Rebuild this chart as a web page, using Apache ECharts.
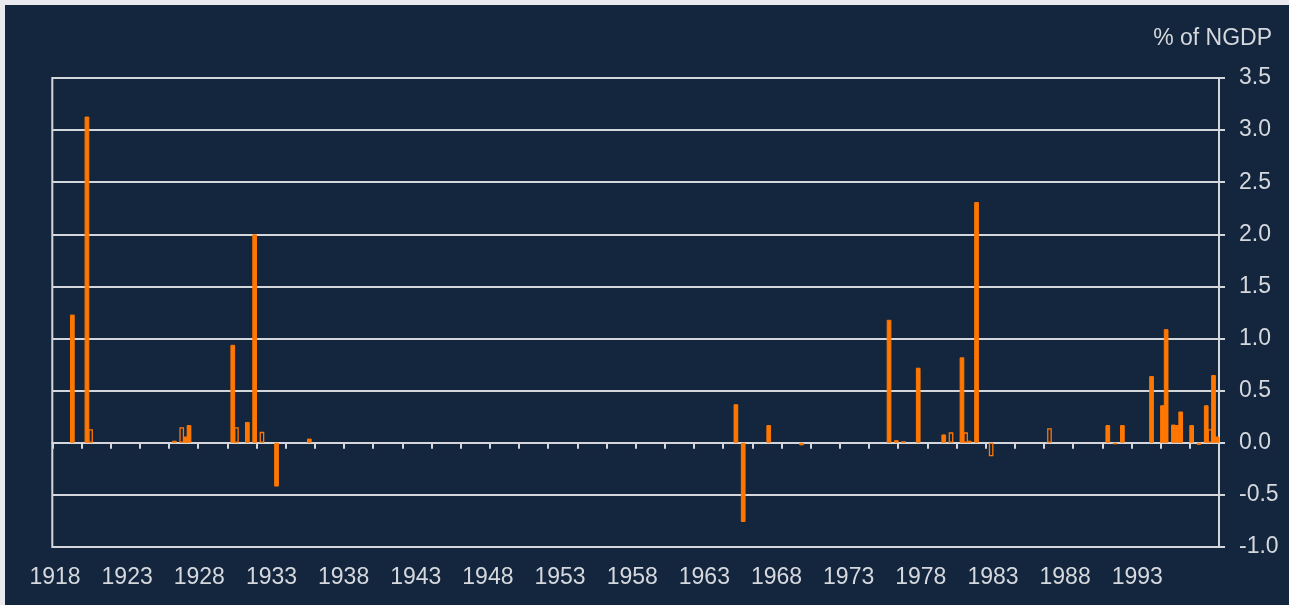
<!DOCTYPE html>
<html>
<head>
<meta charset="utf-8">
<script src="https://cdn.jsdelivr.net/npm/echarts@6/dist/echarts.min.js"></script>
<style>
html,body{margin:0;padding:0;background:#e8eaee;width:1289px;height:605px;overflow:hidden;}
#chart{position:absolute;left:5px;top:5px;width:1284px;height:600px;}
</style>
</head>
<body>
<div id="chart"></div>
<script>
// ---- data (quarterly, % of NGDP) ----
const years = [];
for (let y = 1918; y <= 1997; y++) years.push(String(y));
const quarters = years.flatMap(y => ['Q1', 'Q2', 'Q3', 'Q4'].map(q => y + q));

const yearLabels = ['1918', '1923', '1928', '1933', '1938', '1943', '1948', '1953',
                    '1958', '1963', '1968', '1973', '1978', '1983', '1988', '1993'];
const valueTicks = [-1.0, -0.5, 0.0, 0.5, 1.0, 1.5, 2.0, 2.5, 3.0, 3.5];

const solidBars = [
  ['1919Q2', 1.23], ['1920Q2', 3.13], ['1926Q2', 0.02], ['1927Q1', 0.06], ['1927Q2', 0.17],
  ['1930Q2', 0.94], ['1931Q2', 0.20], ['1931Q4', 2.00], ['1933Q2', -0.42], ['1935Q3', 0.04],
  ['1964Q4', 0.37], ['1965Q2', -0.76], ['1967Q1', 0.17], ['1969Q2', -0.025],
  ['1975Q2', 1.18], ['1975Q4', 0.025], ['1977Q2', 0.72], ['1979Q1', 0.08], ['1980Q2', 0.82],
  ['1980Q4', 0.02], ['1981Q2', 2.31],
  ['1990Q2', 0.17], ['1990Q4', -0.015], ['1991Q2', 0.17], ['1993Q2', 0.64], ['1994Q1', 0.36],
  ['1994Q2', 1.09], ['1994Q4', 0.175], ['1995Q1', 0.17], ['1995Q2', 0.30], ['1996Q1', 0.17],
  ['1996Q3', -0.02], ['1997Q1', 0.36], ['1997Q3', 0.65], ['1997Q4', 0.06]
];
const hollowBars = [
  ['1920Q3', 0.13], ['1926Q4', 0.15], ['1930Q3', 0.15], ['1932Q2', 0.105], ['1976Q2', 0.015],
  ['1979Q3', 0.10], ['1980Q3', 0.10], ['1982Q2', -0.13], ['1986Q2', 0.14], ['1997Q2', 0.13]
];

function toSeries(list) {
  const m = new Map(list);
  return quarters.map(q => (m.has(q) ? m.get(q) : null));
}

// ---- style ----
const BG = '#14263e';
const ORANGE = '#ff7700';
const LINE = '#d3d6db';
const TEXT = '#d5d8dd';
const FONT = '"Liberation Sans", Arial, sans-serif';

const chart = echarts.init(document.getElementById('chart'));
chart.setOption({
  animation: false,
  backgroundColor: BG,
  grid: [
    { left: 47.3, top: 73, width: 1166.7, height: 469, show: true, borderColor: LINE, borderWidth: 2 },
    { left: 42.8, top: 73, width: 1154.4, height: 469, show: false }
  ],
  graphic: [{
    type: 'text', x: 1267, y: 34,
    style: { text: '% of NGDP', fill: TEXT, fontSize: 23, fontFamily: FONT, align: 'right', verticalAlign: 'middle' }
  }],
  xAxis: [
    {
      type: 'category', gridIndex: 0, data: quarters, boundaryGap: true,
      axisLine: { show: true, onZero: true, lineStyle: { color: LINE, width: 2 } },
      axisTick: { show: true, length: 6, interval: (i) => i % 8 === 0, lineStyle: { color: LINE, width: 2 } },
      axisLabel: { show: false },
      splitLine: { show: false }
    },
    {
      type: 'category', gridIndex: 1, data: years, boundaryGap: true, position: 'bottom',
      axisLine: { show: false }, axisTick: { show: false }, splitLine: { show: false },
      axisLabel: {
        show: true, interval: (i, v) => yearLabels.includes(v), margin: 19,
        color: TEXT, fontSize: 23, fontFamily: FONT
      }
    }
  ],
  yAxis: [
    {
      type: 'value', gridIndex: 0, position: 'right',
      min: valueTicks[0], max: valueTicks[valueTicks.length - 1], interval: valueTicks[1] - valueTicks[0],
      axisLine: { show: true, lineStyle: { color: LINE, width: 2 } },
      axisTick: { show: true, length: 6, lineStyle: { color: LINE, width: 2 } },
      splitLine: { show: true, lineStyle: { color: LINE, width: 2 } },
      axisLabel: { margin: 20, color: TEXT, fontSize: 23, fontFamily: FONT, formatter: v => v.toFixed(1) }
    },
    { type: 'value', gridIndex: 1, show: false, min: 0, max: 1 }
  ],
  series: [
    {
      type: 'bar', name: 'hollow', xAxisIndex: 0, yAxisIndex: 0, data: toSeries(hollowBars),
      barWidth: 4.7, barGap: '-100%',
      itemStyle: { color: BG, borderColor: ORANGE, borderWidth: 1.3 }
    },
    {
      type: 'bar', name: 'solid', xAxisIndex: 0, yAxisIndex: 0, data: toSeries(solidBars),
      barWidth: 4.7, barGap: '-100%',
      itemStyle: { color: ORANGE, borderColor: ORANGE, borderWidth: 1 }
    }
  ]
});
</script>
</body>
</html>
